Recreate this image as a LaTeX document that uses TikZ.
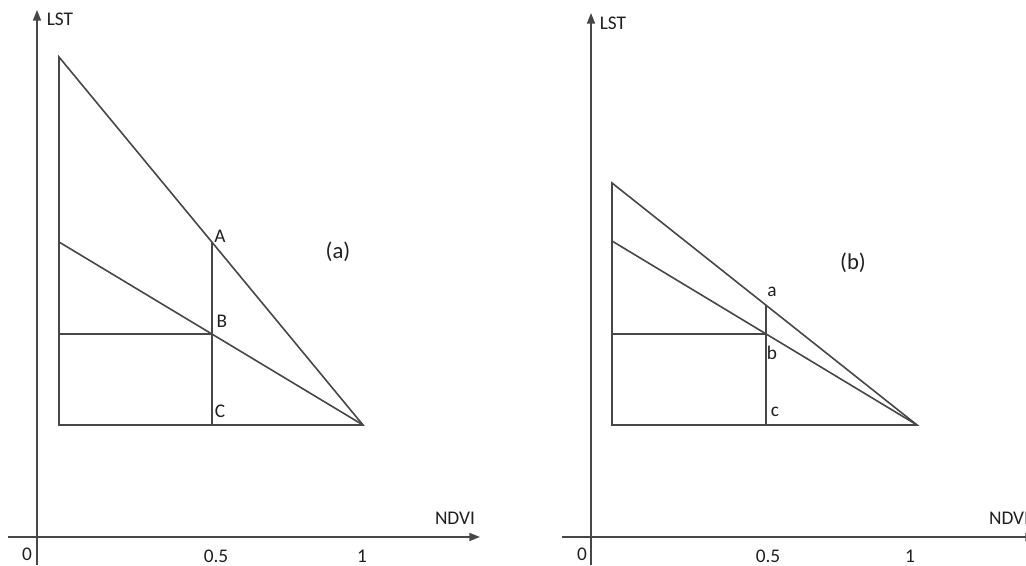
\documentclass[tikz,border=0pt]{standalone}
\usepackage{fontspec}
\setmainfont{Carlito}
\usetikzlibrary{arrows.meta}

\begin{document}
\begin{tikzpicture}[x=0.75pt,y=0.75pt,>={Triangle[length=8pt,width=6pt]},
  line/.style={black!72, line width=1.2pt},
  lbl/.style={text=black!88, font=\fontsize{14.5}{16}\selectfont, inner sep=0pt}]
\useasboundingbox (0,0) rectangle (1026,566);
% ---------- panel (a) ----------
% Axes
\draw[line,->] (8,29) -- (480,29);
\draw[line,->] (37,1) -- (37,556);
\node[lbl] (lsta) at (60,547) {LST};
\node[lbl] (ndvia) at (455,48) {NDVI};
\node[lbl] (zeroa) at (27,12) {0};
\node[lbl] (halfa) at (216,10) {0.5};
\node[lbl] (onea) at (362,10) {1};
% Triangle
\coordinate (topa) at (59,509);
\coordinate (mida) at (59,324);
\coordinate (bota) at (59,141);
\coordinate (enda) at (363,141);
\coordinate (Pa) at (212,324);
\coordinate (Pb) at (212,232);
\coordinate (Pc) at (212,141);
\draw[line] (topa) -- (bota) -- (enda) -- cycle;
\draw[line] (mida) -- (enda);
\draw[line] (Pa) -- (Pc);
\draw[line] (59,232) -- (Pb);
\node[lbl] at (220,330) {A};
\node[lbl] at (222,245) {B};
\node[lbl] at (220,155) {C};
\node[lbl, font=\fontsize{17}{19}\selectfont] at (338,314) {(a)};
% ---------- panel (b) ----------
% Axes
\draw[line,->] (562,29) -- (1036,29);
\draw[line,->] (591,1) -- (591,553);
\node[lbl] (lstb) at (613,543) {LST};
\node[lbl] (ndvib) at (1009,48) {NDVI};
\node[lbl] (zerob) at (582,12) {0};
\node[lbl] (halfb) at (768,10) {0.5};
\node[lbl] (oneb) at (910,10) {1};
% Triangle
\coordinate (topb) at (612,383);
\coordinate (midb) at (612,325);
\coordinate (botb) at (612,141);
\coordinate (endb) at (917,141);
\coordinate (Qa) at (766,261);
\coordinate (Qb) at (766,232);
\coordinate (Qc) at (766,141);
\draw[line] (topb) -- (botb) -- (endb) -- cycle;
\draw[line] (midb) -- (endb);
\draw[line] (Qa) -- (Qc);
\draw[line] (612,232) -- (Qb);
\node[lbl] at (772,274) {a};
\node[lbl] at (772,213) {b};
\node[lbl] at (775,154) {c};
\node[lbl, font=\fontsize{17}{19}\selectfont] at (853,303) {(b)};
\end{tikzpicture}
\end{document}
